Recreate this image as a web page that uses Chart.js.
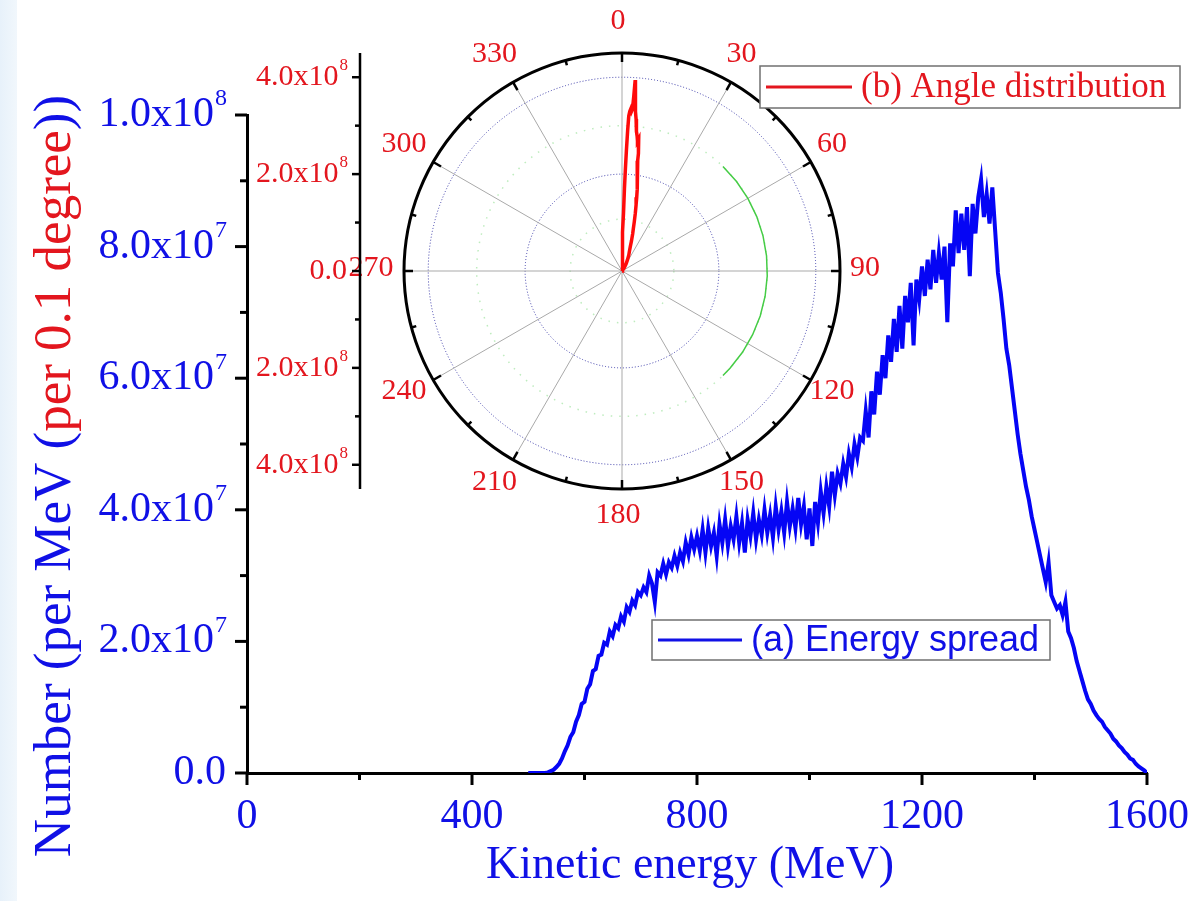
<!DOCTYPE html>
<html>
<head>
<meta charset="utf-8">
<title>Energy spread and angle distribution</title>
<script src="https://cdn.jsdelivr.net/npm/chart.js@4.4.1/dist/chart.umd.min.js"></script>
<style>
  html, body { margin: 0; padding: 0; background: #fff; }
  #wrap { position: relative; width: 1190px; height: 901px; overflow: hidden; }
  #strip { position: absolute; left: 0; top: 0; width: 17px; height: 901px;
           background: linear-gradient(to right, #e7f1fa, #f1f7fc); }
  canvas { position: absolute; left: 0; top: 0; }
</style>
</head>
<body>
<div id="wrap">
  <div id="strip"></div>
  <canvas id="energyChart" width="1190" height="901"></canvas>
  <canvas id="angleChart" width="1190" height="901"></canvas>
</div>
<script>
// (a) energy spread : 5 MeV bins from 500 MeV, counts in units of 1e7 per MeV
var energyStart = 500;
var energyStep = 5;
var energyCounts = [
  0, 0, 0, 0, 0, 0, 0, 0.01, 0.03, 0.05,
  0.09, 0.14, 0.22, 0.33, 0.42, 0.55, 0.62, 0.78, 0.88, 1.05,
  1.08, 1.28, 1.35, 1.55, 1.58, 1.78, 1.80, 1.98, 1.95, 2.15,
  2.08, 2.25, 2.20, 2.38, 2.30, 2.52, 2.45, 2.62, 2.55, 2.75,
  2.70, 2.82, 2.75, 3.00, 2.88, 2.60, 3.05, 3.00, 3.18, 3.02,
  3.20, 3.12, 3.30, 3.15, 3.35, 3.22, 3.50, 3.32, 3.58, 3.40,
  3.60, 3.38, 3.70, 3.35, 3.72, 3.45, 3.65, 3.30, 3.78, 3.50,
  3.85, 3.45, 3.75, 3.55, 3.90, 3.50, 3.80, 3.35, 3.85, 3.60,
  3.95, 3.55, 3.85, 3.62, 4.00, 3.65, 3.92, 3.58, 4.05, 3.70,
  3.98, 3.65, 4.12, 3.75, 4.02, 3.72, 4.18, 3.78, 4.05, 3.55,
  4.02, 3.45, 4.12, 3.80, 4.28, 3.95, 4.35, 4.05, 4.58, 4.22,
  4.55, 4.40, 4.70, 4.50, 4.85, 4.65, 5.00, 4.80, 5.10, 5.05,
  5.50, 5.10, 5.80, 5.45, 6.10, 5.75, 6.35, 6.00, 6.65, 6.25,
  6.90, 6.40, 7.10, 6.45, 7.25, 6.85, 7.45, 6.50, 7.50, 7.20,
  7.70, 7.25, 7.80, 7.35, 7.95, 7.45, 7.90, 7.50, 8.00, 6.85,
  8.05, 7.70, 8.55, 7.90, 8.50, 7.95, 8.60, 7.55, 8.65, 8.20,
  8.75, 9.02, 8.45, 8.80, 8.35, 8.90, 8.25, 7.60, 7.30, 6.90,
  6.45, 6.20, 5.85, 5.50, 5.15, 4.85, 4.60, 4.35, 4.15, 3.90,
  3.70, 3.50, 3.30, 3.10, 2.90, 3.20, 2.70, 2.60, 2.50, 2.55,
  2.40, 2.60, 2.15, 2.05, 1.90, 1.70, 1.55, 1.40, 1.25, 1.12,
  1.05, 0.95, 0.88, 0.82, 0.78, 0.70, 0.65, 0.60, 0.52, 0.48,
  0.42, 0.38, 0.32, 0.28, 0.22, 0.20, 0.14, 0.10, 0.07, 0.04,
  0
];
var energyTicks = [0, 400, 800, 1200, 1600];
var countTicks = [0, 2, 4, 6, 8, 10];      // x1e7

// (b) angle distribution : angle in degrees, counts in units of 1e8 per 0.1 degree
var angleDeg = [0, 0.8, 1.2, 1.4, 1.5, 1.7, 1.9, 2.1, 2.3, 2.5, 2.8, 3.1, 3.4, 3.7, 3.85,
  3.95, 4.05, 4.2, 4.4, 4.6, 4.8, 5.0, 5.3, 5.6, 6.0, 6.4, 6.8, 7.2, 7.5, 7.8, 8.1, 8.5,
  9.0, 9.5, 10.0, 10.6, 11.3, 12.0, 13.0, 14.0, 15.0, 16.0, 17.5, 19.0, 21.0, 23.0, 26.0,
  30.0, 35.0, 40.0];
var angleCounts = [0, 0.15, 0.45, 0.8, 1.2, 1.7, 2.1, 2.5, 2.9, 3.2, 3.3, 3.35, 3.3, 3.35, 3.6,
  3.95, 3.8, 3.7, 3.6, 3.5, 3.4, 3.3, 3.15, 3.0, 2.9, 2.8, 2.7, 2.75, 2.65, 2.45, 2.3, 2.15,
  2.0, 1.9, 1.8, 1.72, 1.55, 1.4, 1.22, 1.05, 0.9, 0.8, 0.65, 0.52, 0.42, 0.36, 0.26,
  0.17, 0.08, 0];
var greenArcDeg = [44, 52, 60, 68, 76, 84, 92, 100, 108, 116, 124, 132, 136];
var greenArcR = 3.0;
var faintRings = [1.07, 3.0];
var radialTicks = [-4, -2, 0, 2, 4];       // x1e8
var radialMax = 4.5;
var angleLabels = [0, 30, 60, 90, 120, 150, 180, 210, 240, 270, 300, 330];

var BLUE = '#0505f5';
var BLUE_TXT = '#1010e6';
var RED = '#ff0a0a';
var RED_TXT = '#e3161e';
var SERIF = '"Liberation Serif", "Times New Roman", serif';
var SANS = '"Liberation Sans", Arial, sans-serif';

function sciParts(v) {
  if (v === 0) return { mant: '0.0', exp: '' };
  var e = Math.floor(Math.log10(v) + 1e-9);
  return { mant: (v / Math.pow(10, e)).toFixed(1) + 'x10', exp: String(e) };
}

// label like 4.0x10^8, right aligned at xRight
function drawSci(ctx, v, xRight, y, size, color) {
  var p = sciParts(v);
  ctx.fillStyle = color;
  ctx.textBaseline = 'middle';
  ctx.textAlign = 'right';
  var supW = 0;
  if (p.exp) {
    var supSize = Math.round(size * 0.58);
    ctx.font = supSize + 'px ' + SERIF;
    supW = ctx.measureText(p.exp).width;
    ctx.fillText(p.exp, xRight, y - size * 0.38);
  }
  ctx.font = size + 'px ' + SERIF;
  ctx.fillText(p.mant, xRight - supW - 1, y);
}

function drawLegend(ctx, box, color, text, font) {
  ctx.save();
  ctx.fillStyle = '#fff';
  ctx.fillRect(box.x, box.y, box.w, box.h);
  ctx.strokeStyle = '#707070';
  ctx.lineWidth = 1.5;
  ctx.strokeRect(box.x, box.y, box.w, box.h);
  ctx.strokeStyle = color;
  ctx.lineWidth = 3;
  ctx.beginPath();
  ctx.moveTo(box.x + 6, box.y + box.h / 2);
  ctx.lineTo(box.x + box.line, box.y + box.h / 2);
  ctx.stroke();
  ctx.fillStyle = color;
  ctx.font = font;
  ctx.textAlign = 'left';
  ctx.textBaseline = 'middle';
  ctx.fillText(text, box.x + box.line + 9, box.y + box.h / 2 + 1);
  ctx.restore();
}

// ---------- main chart (a) ----------
var energyPoints = energyCounts.map(function (c, i) {
  return { x: energyStart + i * energyStep, y: c };
});

var energyAxes = {
  id: 'energyAxes',
  afterDraw: function (chart) {
    var ctx = chart.ctx;
    var xs = chart.scales.x, ys = chart.scales.y;
    var x0 = chart.chartArea.left, y0 = chart.chartArea.bottom;
    ctx.save();
    ctx.strokeStyle = '#000';
    ctx.lineWidth = 3;
    // y ticks, major every 2e7, minor between
    for (var t = 0; t <= 10; t++) {
      var y = ys.getPixelForValue(t);
      var len = t % 2 === 0 ? 12 : 7;
      ctx.beginPath(); ctx.moveTo(x0 - len, y); ctx.lineTo(x0, y); ctx.stroke();
    }
    // x ticks, major every 400, minor between
    for (var e = 0; e <= 1600; e += 200) {
      var x = xs.getPixelForValue(e);
      var l2 = e % 400 === 0 ? 12 : 7;
      ctx.beginPath(); ctx.moveTo(x, y0); ctx.lineTo(x, y0 + l2); ctx.stroke();
    }
    countTicks.forEach(function (c) {
      drawSci(ctx, c * 1e7, x0 - 20, ys.getPixelForValue(c), 42, BLUE_TXT);
    });
    ctx.font = '42px ' + SERIF;
    ctx.fillStyle = BLUE_TXT;
    ctx.textAlign = 'center';
    ctx.textBaseline = 'middle';
    energyTicks.forEach(function (e) {
      ctx.fillText(String(e), xs.getPixelForValue(e), y0 + 44);
    });
    // axis titles
    ctx.font = '46px ' + SERIF;
    ctx.fillText('Kinetic energy (MeV)', 690, 866);
    ctx.translate(56, 476);
    ctx.rotate(-Math.PI / 2);
    ctx.font = '53px ' + SERIF;
    ctx.textAlign = 'left';
    var parts = [
      { t: 'Number (per MeV (', c: BLUE_TXT },
      { t: 'per 0.1 degree', c: RED_TXT },
      { t: '))', c: BLUE_TXT }
    ];
    var total = 0;
    parts.forEach(function (p) { total += ctx.measureText(p.t).width; });
    var px = -total / 2;
    parts.forEach(function (p) {
      ctx.fillStyle = p.c;
      ctx.fillText(p.t, px, 0);
      px += ctx.measureText(p.t).width;
    });
    ctx.restore();
    drawLegend(ctx, { x: 652, y: 620, w: 398, h: 40, line: 90 }, BLUE_TXT,
      '(a) Energy spread', '36px ' + SANS);
  }
};

new Chart(document.getElementById('energyChart'), {
  type: 'line',
  data: {
    datasets: [{
      label: '(a) Energy spread',
      data: energyPoints,
      borderColor: BLUE,
      borderWidth: 4,
      pointRadius: 0,
      tension: 0,
      fill: false
    }]
  },
  options: {
    responsive: false,
    animation: false,
    events: [],
    layout: { padding: { left: 0, top: 115, right: 43, bottom: 0 } },
    scales: {
      x: {
        type: 'linear', min: 0, max: 1600,
        grid: { display: false, drawTicks: false },
        border: { display: true, color: '#000', width: 3 },
        ticks: { display: false, stepSize: 200 },
        afterFit: function (s) { s.height = 128; }
      },
      y: {
        type: 'linear', min: 0, max: 10,
        grid: { display: false, drawTicks: false },
        border: { display: true, color: '#000', width: 3 },
        ticks: { display: false, stepSize: 1 },
        afterFit: function (s) { s.width = 247; }
      }
    },
    plugins: { legend: { display: false }, tooltip: { enabled: false } }
  },
  plugins: [energyAxes]
});

// ---------- inset polar chart (b) ----------
function toXY(deg, r) {
  var a = deg * Math.PI / 180;
  return { x: r * Math.sin(a), y: r * Math.cos(a) };
}
var anglePoints = angleDeg.map(function (d, i) { return toXY(d, angleCounts[i]); });
var greenPoints = greenArcDeg.map(function (d) { return toXY(d, greenArcR); });

var polarFrame = {
  id: 'polarFrame',
  beforeDatasetsDraw: function (chart) {
    var ctx = chart.ctx, xs = chart.scales.x, ys = chart.scales.y;
    var cx = xs.getPixelForValue(0), cy = ys.getPixelForValue(0);
    var rad = function (v) { return xs.getPixelForValue(v) - cx; };
    ctx.save();
    ctx.lineWidth = 1.5;
    ctx.strokeStyle = 'rgba(70,200,70,0.35)';
    ctx.setLineDash([1.5, 7]);
    faintRings.forEach(function (r) {
      ctx.beginPath(); ctx.arc(cx, cy, rad(r), 0, Math.PI * 2); ctx.stroke();
    });
    ctx.lineWidth = 1;
    ctx.strokeStyle = '#3c3ca8';
    ctx.setLineDash([1, 2]);
    radialTicks.filter(function (t) { return t > 0; }).forEach(function (r) {
      ctx.beginPath(); ctx.arc(cx, cy, rad(r), 0, Math.PI * 2); ctx.stroke();
    });
    ctx.setLineDash([]);
    ctx.strokeStyle = '#a9a9a9';
    for (var a = 0; a < 360; a += 30) {
      var p = toXY(a, radialMax);
      ctx.beginPath(); ctx.moveTo(cx, cy);
      ctx.lineTo(xs.getPixelForValue(p.x), ys.getPixelForValue(p.y)); ctx.stroke();
    }
    ctx.restore();
  },
  afterDatasetsDraw: function (chart) {
    var ctx = chart.ctx, xs = chart.scales.x, ys = chart.scales.y;
    var cx = xs.getPixelForValue(0), cy = ys.getPixelForValue(0);
    var R = xs.getPixelForValue(radialMax) - cx;
    ctx.save();
    ctx.strokeStyle = '#000';
    ctx.lineWidth = 3;
    ctx.beginPath(); ctx.arc(cx, cy, R, 0, Math.PI * 2); ctx.stroke();
    ctx.lineWidth = 2.5;
    for (var a = 0; a < 360; a += 15) {
      var s = Math.sin(a * Math.PI / 180), c = Math.cos(a * Math.PI / 180);
      var len = a % 30 === 0 ? 9 : 5;
      ctx.beginPath();
      ctx.moveTo(cx + s * R, cy - c * R);
      ctx.lineTo(cx + s * (R - len), cy - c * (R - len));
      ctx.stroke();
    }
    // angle labels
    ctx.fillStyle = RED_TXT;
    ctx.font = '30px ' + SERIF;
    ctx.textAlign = 'center';
    ctx.textBaseline = 'middle';
    angleLabels.forEach(function (d) {
      var s = Math.sin(d * Math.PI / 180), c = Math.cos(d * Math.PI / 180);
      ctx.fillText(String(d), cx + s * (R + 29) - 4, cy - c * (R + 29) - 3);
    });
    // radial value axis at the left of the circle
    var ax = cx - R - 44;
    ctx.lineWidth = 2.5;
    ctx.beginPath();
    ctx.moveTo(ax, ys.getPixelForValue(radialMax));
    ctx.lineTo(ax, ys.getPixelForValue(-radialMax));
    ctx.stroke();
    for (var t = -4; t <= 4; t++) {
      var ty = ys.getPixelForValue(t);
      var tl = t % 2 === 0 ? 8 : 5;
      ctx.beginPath(); ctx.moveTo(ax - tl, ty); ctx.lineTo(ax, ty); ctx.stroke();
    }
    radialTicks.forEach(function (t) {
      drawSci(ctx, Math.abs(t) * 1e8, ax - 12, ys.getPixelForValue(t), 30, RED_TXT);
    });
    ctx.restore();
    drawLegend(ctx, { x: 760, y: 66, w: 420, h: 42, line: 92 }, RED_TXT,
      '(b) Angle distribution', '35px ' + SERIF);
  }
};

new Chart(document.getElementById('angleChart'), {
  type: 'scatter',
  data: {
    datasets: [
      { data: greenPoints, showLine: true, borderColor: '#45cc45', borderWidth: 1.5, pointRadius: 0 },
      { label: '(b) Angle distribution', data: anglePoints, showLine: true,
        borderColor: RED, borderWidth: 3.5, pointRadius: 0 }
    ]
  },
  options: {
    responsive: false,
    animation: false,
    events: [],
    layout: { padding: { left: 404, top: 53, right: 350, bottom: 412 } },
    scales: {
      x: { type: 'linear', display: false, min: -radialMax, max: radialMax },
      y: { type: 'linear', display: false, min: -radialMax, max: radialMax }
    },
    plugins: { legend: { display: false }, tooltip: { enabled: false } }
  },
  plugins: [polarFrame]
});
</script>
</body>
</html>
